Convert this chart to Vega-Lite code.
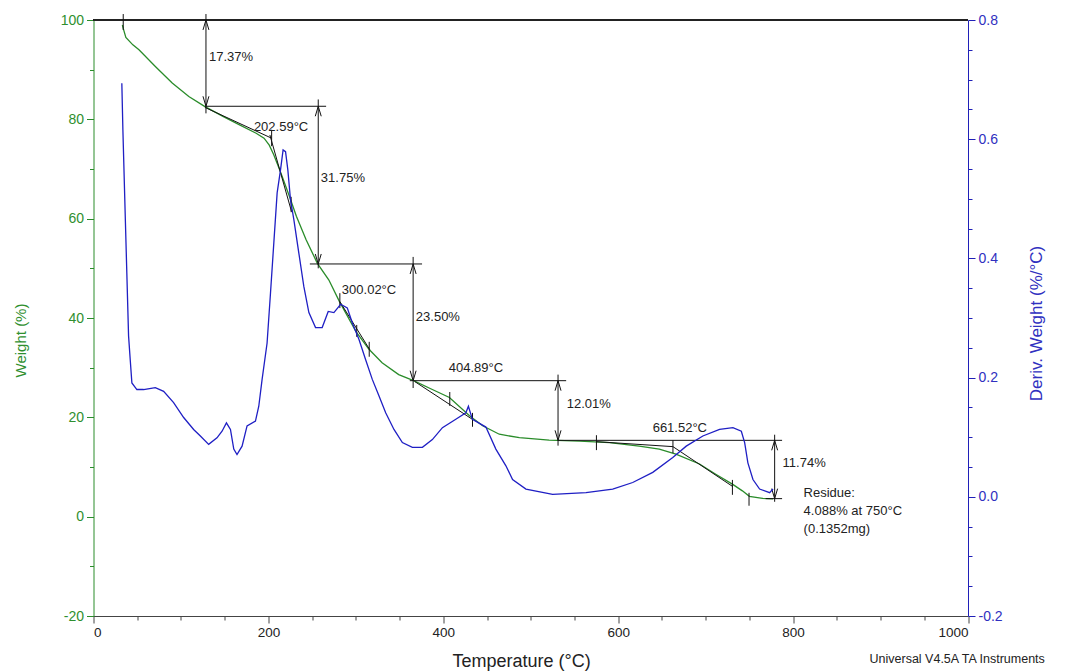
{
  "$schema": "https://vega.github.io/schema/vega-lite/v6.json",
  "width": 874.5,
  "height": 596,
  "autosize": {"type": "none"},
  "padding": {"left": 93.5, "top": 20, "right": 99, "bottom": 55},
  "background": "white",
  "config": {
    "view": {"stroke": null},
    "font": "Liberation Sans",
    "axis": {"grid": false, "titleFontWeight": "normal", "labelFont": "Liberation Sans", "titleFont": "Liberation Sans", "labelOverlap": false}
  },
  "datasets": {
    "weight": [
      {"T": 33, "W": 99.0}, {"T": 34, "W": 98.3}, {"T": 37, "W": 96.5}, {"T": 45, "W": 95.0}, {"T": 52, "W": 94.0},
      {"T": 71, "W": 90.6}, {"T": 90, "W": 87.3}, {"T": 109, "W": 84.6}, {"T": 127, "W": 82.6}, {"T": 148, "W": 80.6},
      {"T": 167, "W": 78.9}, {"T": 186, "W": 77.2}, {"T": 195, "W": 76.2}, {"T": 201, "W": 74.8}, {"T": 206, "W": 72.9}, {"T": 213, "W": 69.8},
      {"T": 224, "W": 64.5}, {"T": 232, "W": 60.5}, {"T": 243, "W": 55.8}, {"T": 256, "W": 51.0}, {"T": 269, "W": 47.7},
      {"T": 281, "W": 43.4}, {"T": 300, "W": 37.3}, {"T": 315, "W": 33.7}, {"T": 330, "W": 31.0}, {"T": 349, "W": 28.6},
      {"T": 366, "W": 27.4}, {"T": 385, "W": 25.8}, {"T": 407, "W": 24.0}, {"T": 430, "W": 20.3}, {"T": 445, "W": 18.3},
      {"T": 464, "W": 16.6}, {"T": 487, "W": 15.9}, {"T": 521, "W": 15.4}, {"T": 556, "W": 15.2}, {"T": 590, "W": 14.9},
      {"T": 624, "W": 14.2}, {"T": 647, "W": 13.6}, {"T": 666, "W": 12.6}, {"T": 693, "W": 10.6}, {"T": 712, "W": 8.5},
      {"T": 731, "W": 6.5}, {"T": 742, "W": 5.2}, {"T": 750, "W": 4.1}, {"T": 765, "W": 3.7}, {"T": 777, "W": 3.6}
    ],
    "deriv": [
      {"T": 32.4, "D": 0.694}, {"T": 33.6, "D": 0.616}, {"T": 36.3, "D": 0.471}, {"T": 38.1, "D": 0.376}, {"T": 40.1, "D": 0.270},
      {"T": 42.0, "D": 0.230}, {"T": 43.9, "D": 0.191}, {"T": 49.6, "D": 0.180}, {"T": 57.3, "D": 0.180}, {"T": 70.7, "D": 0.183},
      {"T": 80.2, "D": 0.177}, {"T": 91.6, "D": 0.158}, {"T": 103.1, "D": 0.133}, {"T": 114.5, "D": 0.113}, {"T": 122.2, "D": 0.102},
      {"T": 131.7, "D": 0.088}, {"T": 141.2, "D": 0.099}, {"T": 147.0, "D": 0.110}, {"T": 152.0, "D": 0.124}, {"T": 156.6, "D": 0.113},
      {"T": 160.4, "D": 0.080}, {"T": 164.1, "D": 0.071}, {"T": 169.9, "D": 0.085}, {"T": 175.6, "D": 0.119}, {"T": 185.2, "D": 0.127},
      {"T": 189.0, "D": 0.152}, {"T": 192.8, "D": 0.197}, {"T": 198.5, "D": 0.258}, {"T": 202.4, "D": 0.342}, {"T": 206.2, "D": 0.426},
      {"T": 210.0, "D": 0.510}, {"T": 213.9, "D": 0.549}, {"T": 216.8, "D": 0.582}, {"T": 219.6, "D": 0.579}, {"T": 222.2, "D": 0.549},
      {"T": 225.3, "D": 0.498}, {"T": 229.1, "D": 0.465}, {"T": 234.8, "D": 0.409}, {"T": 240.5, "D": 0.353}, {"T": 246.3, "D": 0.309},
      {"T": 253.9, "D": 0.284}, {"T": 261.5, "D": 0.284}, {"T": 268.4, "D": 0.311}, {"T": 274.9, "D": 0.309}, {"T": 282.6, "D": 0.323},
      {"T": 290.2, "D": 0.317}, {"T": 295.9, "D": 0.292}, {"T": 303.6, "D": 0.264}, {"T": 311.2, "D": 0.230}, {"T": 318.8, "D": 0.197},
      {"T": 326.5, "D": 0.169}, {"T": 334.1, "D": 0.141}, {"T": 343.6, "D": 0.113}, {"T": 353.2, "D": 0.091}, {"T": 364.6, "D": 0.083},
      {"T": 376.1, "D": 0.083}, {"T": 387.5, "D": 0.096}, {"T": 399.0, "D": 0.116}, {"T": 414.3, "D": 0.130}, {"T": 425.8, "D": 0.141},
      {"T": 428.7, "D": 0.152}, {"T": 433.3, "D": 0.130}, {"T": 448.7, "D": 0.117}, {"T": 460.1, "D": 0.080}, {"T": 471.6, "D": 0.052},
      {"T": 479.2, "D": 0.029}, {"T": 494.5, "D": 0.013}, {"T": 525.0, "D": 0.004}, {"T": 563.2, "D": 0.007}, {"T": 593.7, "D": 0.013},
      {"T": 616.6, "D": 0.024}, {"T": 639.5, "D": 0.041}, {"T": 662.4, "D": 0.066}, {"T": 677.8, "D": 0.085}, {"T": 696.8, "D": 0.102},
      {"T": 715.9, "D": 0.113}, {"T": 731.2, "D": 0.116}, {"T": 740.8, "D": 0.110}, {"T": 744.6, "D": 0.091}, {"T": 748.3, "D": 0.057},
      {"T": 754.1, "D": 0.029}, {"T": 761.7, "D": 0.013}, {"T": 773.2, "D": 0.007}, {"T": 777.0, "D": 0.013}
    ],
    "segs": [
      {"s": "v1", "i": 0, "T": 128.6, "W": 101.2}, {"s": "v1", "i": 1, "T": 128.6, "W": 81.2},
      {"s": "h1", "i": 0, "T": 127.6, "W": 82.63}, {"s": "h1", "i": 1, "T": 266, "W": 82.63},
      {"s": "v2", "i": 0, "T": 257, "W": 84.0}, {"s": "v2", "i": 1, "T": 257, "W": 50.0},
      {"s": "h2", "i": 0, "T": 247.4, "W": 50.88}, {"s": "h2", "i": 1, "T": 375.7, "W": 50.88},
      {"s": "v3", "i": 0, "T": 365.5, "W": 52.3}, {"s": "v3", "i": 1, "T": 365.5, "W": 25.9},
      {"s": "h3", "i": 0, "T": 361.7, "W": 27.38}, {"s": "h3", "i": 1, "T": 540.5, "W": 27.38},
      {"s": "v4", "i": 0, "T": 531.2, "W": 28.6}, {"s": "v4", "i": 1, "T": 531.2, "W": 14.3},
      {"s": "h4", "i": 0, "T": 531, "W": 15.37}, {"s": "h4", "i": 1, "T": 787.4, "W": 15.37},
      {"s": "v5", "i": 0, "T": 778.9, "W": 16.5}, {"s": "v5", "i": 1, "T": 778.9, "W": 3.0},
      {"s": "h5", "i": 0, "T": 768.6, "W": 3.63}, {"s": "h5", "i": 1, "T": 787.4, "W": 3.63},
      {"s": "t0", "i": 0, "T": 34, "W": 101.2}, {"s": "t0", "i": 1, "T": 34, "W": 98.0},
      {"s": "o1a", "i": 0, "T": 127.4, "W": 82.4}, {"s": "o1a", "i": 1, "T": 203.7, "W": 76.2},
      {"s": "o1b", "i": 0, "T": 201.7, "W": 76.85}, {"s": "o1b", "i": 1, "T": 226.5, "W": 61.4},
      {"s": "k1a", "i": 0, "T": 203.7, "W": 77.9}, {"s": "k1a", "i": 1, "T": 203.7, "W": 74.6},
      {"s": "k1b", "i": 0, "T": 226, "W": 64.4}, {"s": "k1b", "i": 1, "T": 226, "W": 61.3},
      {"s": "o2", "i": 0, "T": 281.7, "W": 43.3}, {"s": "o2", "i": 1, "T": 316, "W": 33.6},
      {"s": "k2a", "i": 0, "T": 281.7, "W": 45.0}, {"s": "k2a", "i": 1, "T": 281.7, "W": 42.0},
      {"s": "k2b", "i": 0, "T": 301, "W": 38.6}, {"s": "k2b", "i": 1, "T": 301, "W": 36.2},
      {"s": "k2c", "i": 0, "T": 315.3, "W": 35.2}, {"s": "k2c", "i": 1, "T": 315.3, "W": 32.2},
      {"s": "o3", "i": 0, "T": 367.4, "W": 27.2}, {"s": "o3", "i": 1, "T": 434.1, "W": 19.5},
      {"s": "k3a", "i": 0, "T": 407.4, "W": 25.1}, {"s": "k3a", "i": 1, "T": 407.4, "W": 22.3},
      {"s": "k3b", "i": 0, "T": 433.4, "W": 20.9}, {"s": "k3b", "i": 1, "T": 433.4, "W": 18.1},
      {"s": "o4", "i": 0, "T": 575.1, "W": 15.1}, {"s": "o4", "i": 1, "T": 662.6, "W": 14.1}, {"s": "o4", "i": 2, "T": 731.2, "W": 6.04},
      {"s": "k4a", "i": 0, "T": 575.1, "W": 16.4}, {"s": "k4a", "i": 1, "T": 575.1, "W": 13.4},
      {"s": "k4b", "i": 0, "T": 662.6, "W": 15.4}, {"s": "k4b", "i": 1, "T": 662.6, "W": 12.8},
      {"s": "k4c", "i": 0, "T": 730.6, "W": 7.4}, {"s": "k4c", "i": 1, "T": 730.6, "W": 4.4},
      {"s": "k4d", "i": 0, "T": 749.6, "W": 4.8}, {"s": "k4d", "i": 1, "T": 749.6, "W": 2.2},
      {"s": "a1u", "i": 0, "T": 125.2, "W": 98.0}, {"s": "a1u", "i": 1, "T": 128.6, "W": 100}, {"s": "a1u", "i": 2, "T": 132.0, "W": 98.0},
      {"s": "a1d", "i": 0, "T": 125.2, "W": 84.64}, {"s": "a1d", "i": 1, "T": 128.6, "W": 82.63}, {"s": "a1d", "i": 2, "T": 132.0, "W": 84.64},
      {"s": "a2u", "i": 0, "T": 253.6, "W": 80.62}, {"s": "a2u", "i": 1, "T": 257, "W": 82.63}, {"s": "a2u", "i": 2, "T": 260.4, "W": 80.62},
      {"s": "a2d", "i": 0, "T": 253.6, "W": 52.89}, {"s": "a2d", "i": 1, "T": 257, "W": 50.88}, {"s": "a2d", "i": 2, "T": 260.4, "W": 52.89},
      {"s": "a3u", "i": 0, "T": 362.1, "W": 48.87}, {"s": "a3u", "i": 1, "T": 365.5, "W": 50.88}, {"s": "a3u", "i": 2, "T": 368.9, "W": 48.87},
      {"s": "a3d", "i": 0, "T": 362.1, "W": 29.39}, {"s": "a3d", "i": 1, "T": 365.5, "W": 27.38}, {"s": "a3d", "i": 2, "T": 368.9, "W": 29.39},
      {"s": "a4u", "i": 0, "T": 527.8, "W": 25.37}, {"s": "a4u", "i": 1, "T": 531.2, "W": 27.38}, {"s": "a4u", "i": 2, "T": 534.6, "W": 25.37},
      {"s": "a4d", "i": 0, "T": 527.8, "W": 17.38}, {"s": "a4d", "i": 1, "T": 531.2, "W": 15.37}, {"s": "a4d", "i": 2, "T": 534.6, "W": 17.38},
      {"s": "a5u", "i": 0, "T": 775.5, "W": 13.36}, {"s": "a5u", "i": 1, "T": 778.9, "W": 15.37}, {"s": "a5u", "i": 2, "T": 782.3, "W": 13.36},
      {"s": "a5d", "i": 0, "T": 775.5, "W": 5.64}, {"s": "a5d", "i": 1, "T": 778.9, "W": 3.63}, {"s": "a5d", "i": 2, "T": 782.3, "W": 5.64}
    ],
    "labels": [
      {"T": 132, "W": 92.55, "text": "17.37%", "size": 13, "font": "Liberation Sans"},
      {"T": 183.4, "W": 78.46, "text": "202.59°C", "size": 13, "font": "Liberation Sans"},
      {"T": 260, "W": 68.2, "text": "31.75%", "size": 13, "font": "Liberation Sans"},
      {"T": 284, "W": 45.6, "text": "300.02°C", "size": 13, "font": "Liberation Sans"},
      {"T": 368.6, "W": 40.2, "text": "23.50%", "size": 13, "font": "Liberation Sans"},
      {"T": 406.3, "W": 29.9, "text": "404.89°C", "size": 13, "font": "Liberation Sans"},
      {"T": 541.1, "W": 22.7, "text": "12.01%", "size": 13, "font": "Liberation Sans"},
      {"T": 639.4, "W": 17.9, "text": "661.52°C", "size": 13, "font": "Liberation Sans"},
      {"T": 788, "W": 10.8, "text": "11.74%", "size": 13, "font": "Liberation Sans"},
      {"T": 812, "W": 4.8, "text": "Residue:", "size": 13, "font": "Liberation Sans"},
      {"T": 812, "W": 1.15, "text": "4.088% at 750°C", "size": 13, "font": "Liberation Sans"},
      {"T": 812, "W": -2.5, "text": "(0.1352mg)", "size": 13, "font": "Liberation Sans"},
      {"T": 887.4, "W": -28.6, "text": "Universal V4.5A TA Instruments", "size": 12.5, "font": "DejaVu Sans"}
    ]
  },
  "layer": [
    {
      "layer": [
        {
          "data": {"name": "weight"},
          "mark": {"type": "line", "color": "#2a8c2a", "strokeWidth": 1.3},
          "encoding": {
            "x": {
              "field": "T", "type": "quantitative",
              "scale": {"domain": [0, 1000], "nice": false, "zero": false},
              "axis": {
                "values": [0, 50, 100, 150, 200, 250, 300, 350, 400, 450, 500, 550, 600, 650, 700, 750, 800, 850, 900, 950, 1000],
                "labelExpr": "datum.value % 200 === 0 ? datum.label : ''",
                "format": "d",
                "tickSize": {"condition": {"test": "datum.value % 200 === 0", "value": 7}, "value": 4},
                "domainColor": "#444", "tickColor": "#444", "labelColor": "#222",
                "labelFontSize": 13.5, "labelPadding": 2,
                "title": "Temperature (°C)", "titleFontSize": 18, "titleColor": "#222", "titlePadding": 14, "titleX": 427.5
              }
            },
            "y": {
              "field": "W", "type": "quantitative",
              "scale": {"domain": [-20, 100], "nice": false, "zero": false},
              "axis": {
                "orient": "left",
                "values": [-20, -15, -10, -5, 0, 5, 10, 15, 20, 25, 30, 35, 40, 45, 50, 55, 60, 65, 70, 75, 80, 85, 90, 95, 100],
                "labelExpr": "datum.value % 20 === 0 ? replace(datum.label, '\u2212', '-') : ''",
                "format": "d",
                "tickSize": {"condition": {"test": "datum.value % 20 === 0", "value": 7}, "value": 4},
                "domainColor": "#2a8c2a", "tickColor": "#2a8c2a", "labelColor": "#2f8f2f",
                "labelFontSize": 14, "labelPadding": 3,
                "title": "Weight (%)", "titleFontSize": 15, "titleColor": "#2f8f2f", "titlePadding": 32, "titleY": 320
              }
            }
          }
        },
        {
          "data": {"name": "weight"},
          "mark": {"type": "rule", "color": "#222", "strokeWidth": 1},
          "encoding": {"y": {"datum": 100, "type": "quantitative"}}
        },
        {
          "data": {"name": "segs"},
          "mark": {"type": "line", "color": "#111", "strokeWidth": 1},
          "encoding": {
            "x": {"field": "T", "type": "quantitative"},
            "y": {"field": "W", "type": "quantitative"},
            "detail": {"field": "s"},
            "order": {"field": "i"}
          }
        },
        {
          "data": {"name": "labels"},
          "mark": {"type": "text", "align": "left", "baseline": "middle", "color": "#222"},
          "encoding": {
            "x": {"field": "T", "type": "quantitative"},
            "y": {"field": "W", "type": "quantitative"},
            "text": {"field": "text"},
            "size": {"field": "size", "type": "quantitative", "scale": null},
            "font": {"field": "font", "type": "nominal", "scale": null}
          }
        }
      ]
    },
    {
      "data": {"name": "deriv"},
      "mark": {"type": "line", "color": "#1f1fc4", "strokeWidth": 1.3},
      "encoding": {
        "x": {"field": "T", "type": "quantitative"},
        "y": {
          "field": "D", "type": "quantitative",
          "scale": {"domain": [-0.2, 0.8], "nice": false, "zero": false},
          "axis": {
            "orient": "right",
            "values": [-0.2, -0.15, -0.1, -0.05, 0, 0.05, 0.1, 0.15, 0.2, 0.25, 0.3, 0.35, 0.4, 0.45, 0.5, 0.55, 0.6, 0.65, 0.7, 0.75, 0.8],
            "format": ".1f",
            "labelExpr": "abs(datum.value * 5 - round(datum.value * 5)) < 0.001 ? replace(datum.label, '\u2212', '-') : ''",
            "tickSize": {"condition": {"test": "abs(datum.value * 5 - round(datum.value * 5)) < 0.001", "value": 7}, "value": 4},
            "domainColor": "#2020b8", "tickColor": "#2020b8", "labelColor": "#3030c0",
            "labelFontSize": 14, "labelPadding": 3,
            "title": "Deriv. Weight (%/°C)", "titleFontSize": 17, "titleColor": "#3030c0", "titlePadding": 43, "titleAngle": 270, "titleBaseline": "bottom", "titleY": 303
          }
        }
      }
    }
  ],
  "resolve": {"scale": {"y": "independent"}}
}
